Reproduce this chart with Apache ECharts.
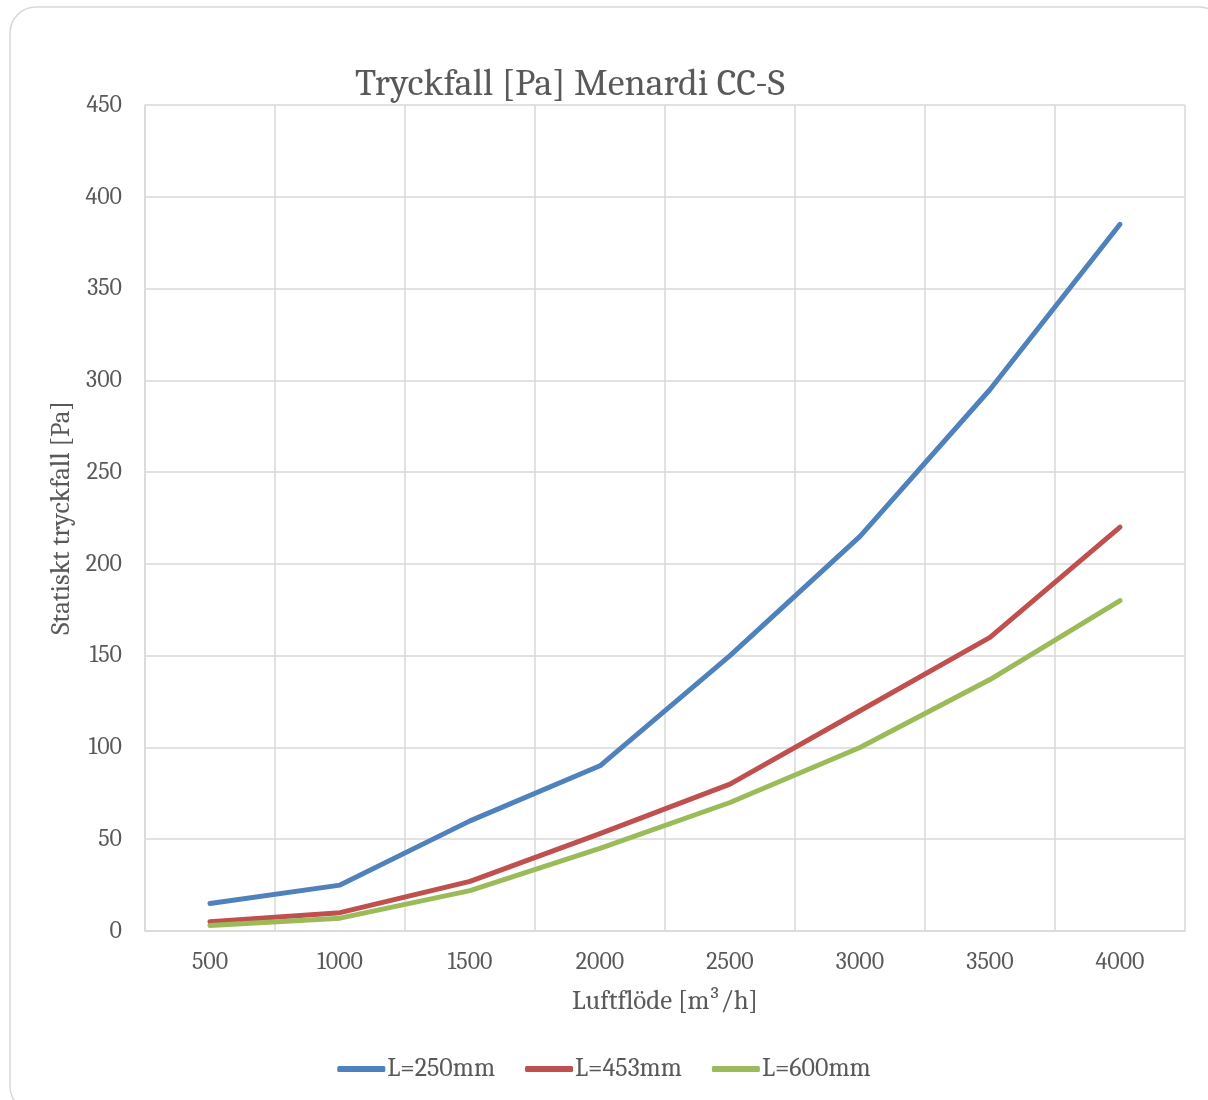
<!DOCTYPE html>
<html>
<head>
<meta charset="utf-8">
<script src="https://cdn.jsdelivr.net/npm/echarts@6/dist/echarts.min.js"></script>
<style>
	html, body { margin: 0; padding: 0; background: #fff; }
	#chart { width: 1208px; height: 1100px; }
</style>
</head>
<body>
<div id="chart"></div>
<script>
	// luftflöde, m3/h
	var categories = ['500', '1000', '1500', '2000', '2500', '3000', '3500', '4000'];
	// statiskt tryckfall, Pa
	var l250 = [15, 25, 60, 90, 150, 215, 295, 385];
	var l453 = [5, 10, 27, 53, 80, 120, 160, 220];
	var l600 = [3, 7, 22, 45, 70, 100, 137, 180];
	var seriesNames = ['L=250mm', 'L=453mm', 'L=600mm'];
	var colors = ['#4f81bd', '#c0504d', '#9bbb59'];

	var font = 'Cambria, "Liberation Serif", serif';
	var textColor = '#595959';

	function makeSeries(name, data, color) {
		return {
			name: name,
			type: 'line',
			data: data,
			symbol: 'none',
			color: color,
			lineStyle: { width: 5, color: color, cap: 'round', join: 'round' }
		};
	}

	var myChart = echarts.init(document.getElementById('chart'));
	myChart.setOption({
		animation: false,
		textStyle: { fontFamily: font },
		title: {
			text: 'Tryckfall [Pa] Menardi CC-S',
			left: 565,
			textAlign: 'center',
			top: 60,
			textStyle: { fontFamily: font, fontSize: 38, fontWeight: 'normal', color: textColor }
		},
		graphic: [{
			type: 'rect',
			shape: { x: 10, y: 7, width: 1215, height: 1105, r: 26 },
			style: { fill: 'none', stroke: '#d9d9d9', lineWidth: 1.5 },
			silent: true
		}],
		legend: {
			data: seriesNames,
			bottom: 13,
			left: 'center',
			itemWidth: 48,
			itemHeight: 6,
			itemGap: 30,
			icon: 'roundRect',
			textStyle: { fontFamily: font, fontSize: 26, color: textColor, padding: [0, 0, 0, -3] }
		},
		grid: { left: 145, right: 23, top: 105, bottom: 169 },
		xAxis: {
			type: 'category',
			data: categories,
			boundaryGap: true,
			name: 'Luftflöde [m³/h]',
			nameLocation: 'middle',
			nameGap: 57,
			nameTextStyle: { fontFamily: font, fontSize: 27, color: textColor },
			axisLine: { lineStyle: { color: '#d9d9d9', width: 1.5 } },
			axisTick: { show: false },
			axisLabel: { fontFamily: font, fontSize: 24, color: textColor, margin: 19 },
			splitLine: { show: true, interval: 0, lineStyle: { color: '#d9d9d9', width: 1.5 } }
		},
		yAxis: {
			type: 'value',
			min: 0,
			max: 450,
			interval: 50,
			name: 'Statiskt tryckfall [Pa]',
			nameLocation: 'middle',
			nameGap: 70,
			nameTextStyle: { fontFamily: font, fontSize: 27, color: textColor },
			axisLine: { show: true, lineStyle: { color: '#d9d9d9', width: 1.5 } },
			axisTick: { show: false },
			axisLabel: { fontFamily: font, fontSize: 24, color: textColor, margin: 23 },
			splitLine: { show: true, lineStyle: { color: '#d9d9d9', width: 1.5 } }
		},
		series: [
			makeSeries(seriesNames[0], l250, colors[0]),
			makeSeries(seriesNames[1], l453, colors[1]),
			makeSeries(seriesNames[2], l600, colors[2])
		]
	});
</script>
</body>
</html>
